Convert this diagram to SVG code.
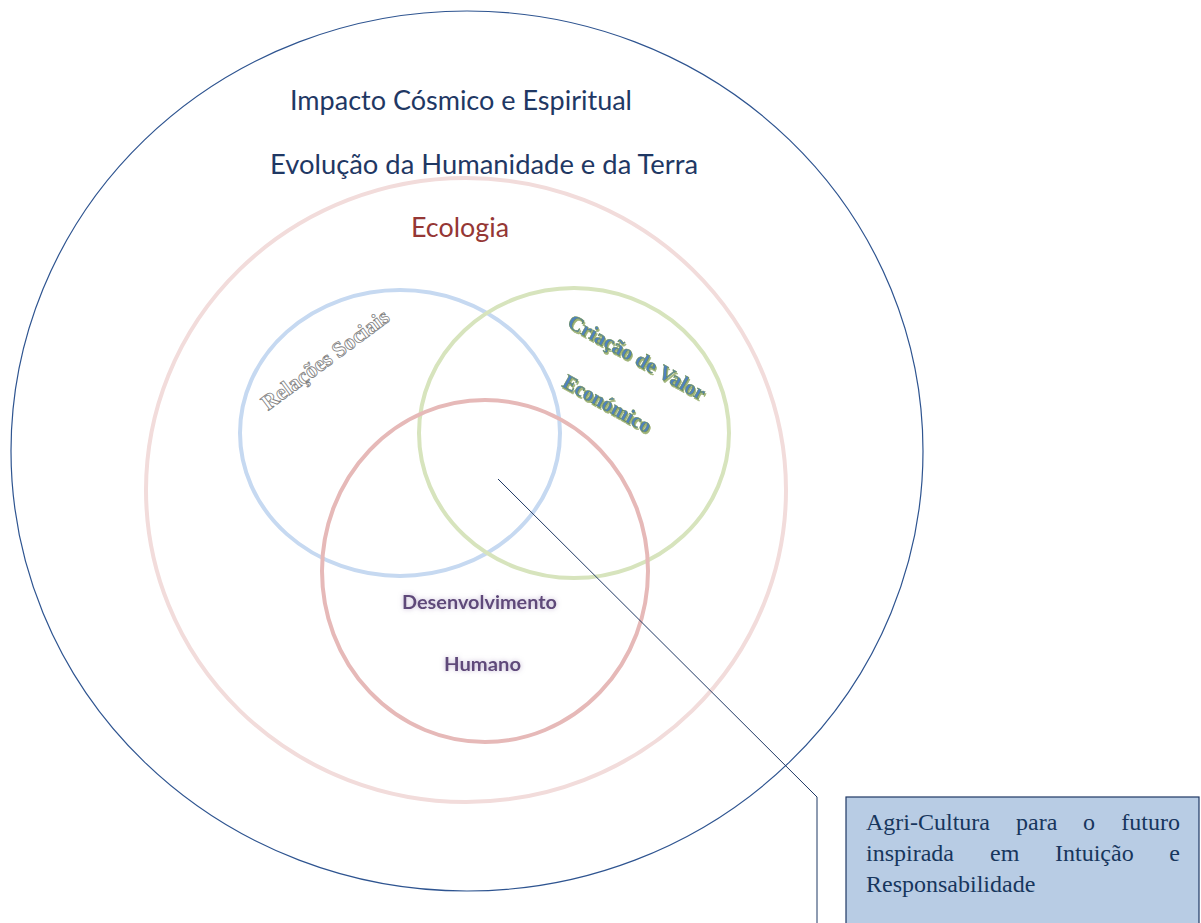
<svg xmlns="http://www.w3.org/2000/svg" width="1201" height="923" viewBox="0 0 1201 923">
<defs>
<filter id="glow" x="-20%" y="-50%" width="140%" height="200%">
<feGaussianBlur in="SourceAlpha" stdDeviation="2.5" result="b"/>
<feFlood flood-color="#b2a1c7" flood-opacity="0.8"/>
<feComposite in2="b" operator="in" result="g"/>
<feMerge><feMergeNode in="g"/><feMergeNode in="SourceGraphic"/></feMerge>
</filter>
<filter id="shadow" x="-10%" y="-30%" width="120%" height="160%">
<feOffset in="SourceAlpha" dx="1" dy="1.5" result="o"/>
<feFlood flood-color="#76923c" flood-opacity="0.7"/>
<feComposite in2="o" operator="in" result="s"/>
<feMerge><feMergeNode in="s"/><feMergeNode in="SourceGraphic"/></feMerge>
</filter>
</defs>
<style>
.ring{fill:none}
.cal{font-family:Lato,"Open Sans",sans-serif}
.tms{font-family:"Liberation Serif","Times New Roman",serif}
.navy{fill:#1f3864}
.cw{font-size:24px;fill:#17365d}
</style>
<rect width="1201" height="923" fill="#ffffff"/>
<g id="outer">
<ellipse class="ring" cx="467" cy="451" rx="456" ry="440" stroke="#2e5490" stroke-width="1.2"/>
<text class="cal navy" x="290" y="110" font-size="26" textLength="342" lengthAdjust="spacingAndGlyphs">Impacto Cósmico e Espiritual</text>
<text class="cal navy" x="270" y="174" font-size="26" textLength="428" lengthAdjust="spacingAndGlyphs">Evolução da Humanidade e da Terra</text>
</g>
<g id="ecologia">
<ellipse class="ring" cx="466" cy="490" rx="320" ry="312" stroke="#f2dcdb" stroke-width="4"/>
<text class="cal" x="411" y="237" font-size="26" fill="#953735" textLength="98" lengthAdjust="spacingAndGlyphs">Ecologia</text>
</g>
<g id="relacoes">
<ellipse class="ring" cx="400" cy="433" rx="160" ry="143" stroke="#c6d9f1" stroke-width="4"/>
<text class="tms" font-weight="bold" font-size="22" fill="#ffffff" stroke="#808080" stroke-width="0.8" transform="translate(268,411) rotate(-36.5)" textLength="153" lengthAdjust="spacingAndGlyphs">Relações Sociais</text>
</g>
<g id="criacao">
<ellipse class="ring" cx="574" cy="433" rx="155" ry="145" stroke="#d7e4bd" stroke-width="4"/>
<g filter="url(#shadow)">
<text class="tms" font-weight="bold" font-size="21" fill="#4f81bd" stroke="#6d8e4a" stroke-width="0.5" transform="translate(566,326) rotate(29)" textLength="154" lengthAdjust="spacingAndGlyphs">Criação de Valor</text>
<text class="tms" font-weight="bold" font-size="21" fill="#4f81bd" stroke="#6d8e4a" stroke-width="0.5" transform="translate(561,386) rotate(29)" textLength="98" lengthAdjust="spacingAndGlyphs">Económico</text>
</g>
</g>
<g id="desenvolvimento">
<ellipse class="ring" cx="485" cy="571" rx="163" ry="171" stroke="#e6b9b8" stroke-width="4"/>
<g filter="url(#glow)">
<text class="cal" x="402" y="609" font-size="18" font-weight="bold" fill="#5f497a" textLength="155" lengthAdjust="spacingAndGlyphs">Desenvolvimento</text>
<text class="cal" x="444" y="671" font-size="18" font-weight="bold" fill="#5f497a" textLength="77" lengthAdjust="spacingAndGlyphs">Humano</text>
</g>
</g>
<g id="connectors">
<polyline points="498,479 817,797 817,923" fill="none" stroke="#1f3864" stroke-width="1"/>
</g>
<g id="callout">
<rect x="846" y="797" width="353" height="140" fill="#b8cce4" stroke="#1f3864" stroke-width="1.2"/>
<text class="tms cw" x="866" y="830">Agri-Cultura</text>
<text class="tms cw" x="1016" y="830">para</text>
<text class="tms cw" x="1083" y="830">o</text>
<text class="tms cw" x="1180" y="830" text-anchor="end">futuro</text>
<text class="tms cw" x="866" y="861">inspirada</text>
<text class="tms cw" x="990" y="861">em</text>
<text class="tms cw" x="1055" y="861">Intuição</text>
<text class="tms cw" x="1180" y="861" text-anchor="end">e</text>
<text class="tms cw" x="866" y="892">Responsabilidade</text>
</g>
</svg>
